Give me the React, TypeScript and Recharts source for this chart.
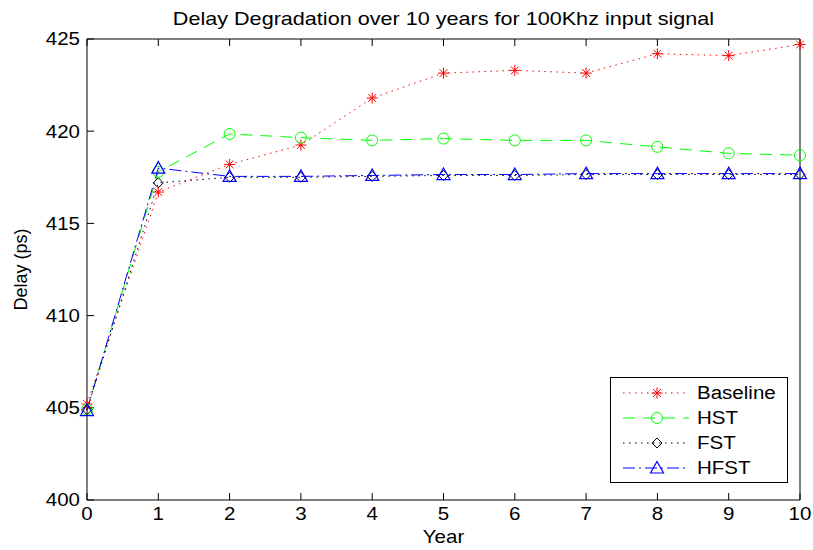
import React from 'react';
import { LineChart, Line, XAxis, YAxis, Legend } from 'recharts';

const years = [0, 1, 2, 3, 4, 5, 6, 7, 8, 9, 10];
const baseline = [405.2, 416.7, 418.2, 419.25, 421.8, 423.15, 423.3, 423.15, 424.2, 424.1, 424.7];
const hst = [404.9, 417.8, 419.85, 419.65, 419.5, 419.6, 419.5, 419.5, 419.15, 418.8, 418.7];
const fst = [404.9, 417.2, 417.5, 417.5, 417.55, 417.6, 417.6, 417.65, 417.65, 417.65, 417.65];
const hfst = [404.85, 418.0, 417.55, 417.55, 417.6, 417.65, 417.65, 417.7, 417.7, 417.7, 417.7];
const yTicks = [400, 405, 410, 415, 420, 425];
const xTicks = [0, 1, 2, 3, 4, 5, 6, 7, 8, 9, 10];

const data = years.map((year, i) => ({
  year,
  baseline: baseline[i],
  hst: hst[i],
  fst: fst[i],
  hfst: hfst[i],
}));

const FONT = 'Liberation Sans, Arial, sans-serif';
const FS = 18;
const SX = 1.14; // the old figure text is a bit stretched sideways

// marker shapes (MATLAB style)
const Star = ({ cx, cy, stroke = '#ff0000' }: any) => {
  const r = 5.5;
  const d = 3.9;
  return (
    <g stroke={stroke} strokeWidth={1}>
      <line x1={cx - r} y1={cy} x2={cx + r} y2={cy} />
      <line x1={cx} y1={cy - r} x2={cx} y2={cy + r} />
      <line x1={cx - d} y1={cy - d} x2={cx + d} y2={cy + d} />
      <line x1={cx - d} y1={cy + d} x2={cx + d} y2={cy - d} />
    </g>
  );
};
const Circ = ({ cx, cy, stroke = '#00ff00' }: any) => (
  <circle cx={cx} cy={cy} r={5.5} fill="none" stroke={stroke} strokeWidth={1} />
);
const Diamond = ({ cx, cy, stroke = '#000000' }: any) => (
  <path d={`M${cx},${cy - 5} L${cx + 5},${cy} L${cx},${cy + 5} L${cx - 5},${cy} Z`} fill="none" stroke={stroke} strokeWidth={1} />
);
const Tri = ({ cx, cy, stroke = '#0000ff' }: any) => (
  <path d={`M${cx},${cy - 6.5} L${cx + 6.5},${cy + 5} L${cx - 6.5},${cy + 5} Z`} fill="none" stroke={stroke} strokeWidth={1.2} />
);

const dotFn = (Shape: any) => (props: any) => {
  if (props.cx == null || props.cy == null) return <g key={props.index} />;
  return <g key={props.index}><Shape cx={props.cx} cy={props.cy} /></g>;
};

const series = [
  { key: 'baseline', name: 'Baseline', color: '#ff0000', dash: '1.5 4.5', Shape: Star },
  { key: 'hst', name: 'HST', color: '#00ff00', dash: '12 8', Shape: Circ },
  { key: 'fst', name: 'FST', color: '#000000', dash: '1.5 4.5', Shape: Diamond },
  { key: 'hfst', name: 'HFST', color: '#0000ff', dash: '12 4 2 4', Shape: Tri },
];

const LegendBox = () => (
  <div
    style={{
      border: '1px solid #000',
      background: '#fff',
      width: 176,
      height: 102,
      boxSizing: 'content-box',
      paddingTop: 2,
      fontFamily: FONT,
      fontSize: FS,
    }}
  >
    {series.map((s) => (
      <div key={s.key} style={{ display: 'flex', alignItems: 'center', height: 25 }}>
        <svg width={86} height={20} style={{ display: 'block', flex: 'none' }}>
          <line x1={12} y1={10} x2={78} y2={10} stroke={s.color} strokeWidth={1} strokeDasharray={s.dash} />
          <s.Shape cx={46} cy={10} />
        </svg>
        <span style={{ color: '#000', display: 'inline-block', transform: `scaleX(${SX})`, transformOrigin: 'left center', lineHeight: 1 }}>
          {s.name}
        </span>
      </div>
    ))}
  </div>
);

const XTick = ({ x, y, payload }: any) => (
  <g transform={`translate(${x},${y})`}>
    <text transform={`scale(${SX},1)`} textAnchor="middle" dy="0.71em" fill="#000" fontSize={FS} fontFamily={FONT}>
      {payload.value}
    </text>
  </g>
);

const YTick = ({ x, y, payload }: any) => (
  <g transform={`translate(${x},${y})`}>
    <text transform={`scale(${SX},1)`} textAnchor="end" dy="0.36em" fill="#000" fontSize={FS} fontFamily={FONT}>
      {payload.value}
    </text>
  </g>
);

const noTick = () => <g />;

const TitleLabel = ({ viewBox }: any) => (
  <g transform={`translate(${viewBox.x + viewBox.width / 2},${viewBox.y - 13})`}>
    <text transform="scale(1.2,1)" textAnchor="middle" fill="#000" fontSize={FS} fontFamily={FONT}>
      Delay Degradation over 10 years for 100Khz input signal
    </text>
  </g>
);

const YearLabel = ({ viewBox }: any) => (
  <g transform={`translate(${viewBox.x + viewBox.width / 2},${viewBox.y + 43})`}>
    <text transform={`scale(${SX},1)`} textAnchor="middle" fill="#000" fontSize={FS} fontFamily={FONT}>
      Year
    </text>
  </g>
);

const DelayLabel = ({ viewBox }: any) => (
  <text
    transform={`translate(${viewBox.x + 27},${viewBox.y + viewBox.height / 2}) rotate(-90)`}
    textAnchor="middle"
    fill="#000"
    fontSize={FS}
    fontFamily={FONT}
  >
    Delay (ps)
  </text>
);

export default function App() {
  return (
    <div style={{ position: 'absolute', left: 0, top: 0, width: 813, height: 550, background: '#fff' }}>
      <LineChart
        width={813}
        height={550}
        data={data}
        margin={{ top: 38, right: 12, bottom: 5, left: 0 }}
        style={{ fontFamily: FONT }}
      >
        <XAxis
          dataKey="year"
          type="number"
          domain={[0, 10]}
          ticks={xTicks}
          height={45}
          stroke="#000"
          tickSize={-7}
          tickMargin={14}
          tick={<XTick />}
          label={<YearLabel />}
        />
        <XAxis
          xAxisId="top"
          orientation="top"
          dataKey="year"
          type="number"
          domain={[0, 10]}
          ticks={xTicks}
          height={1}
          stroke="#000"
          tickSize={-7}
          tick={noTick}
          label={<TitleLabel />}
        />
        <YAxis
          type="number"
          domain={[400, 425]}
          ticks={yTicks}
          width={87}
          stroke="#000"
          tickSize={-7}
          tickMargin={14}
          tick={<YTick />}
          label={<DelayLabel />}
        />
        <YAxis
          yAxisId="right"
          orientation="right"
          type="number"
          domain={[400, 425]}
          ticks={yTicks}
          width={1}
          stroke="#000"
          tickSize={-7}
          tick={noTick}
        />
        {series.map((s) => (
          <Line
            key={s.key}
            dataKey={s.key}
            name={s.name}
            type="linear"
            stroke={s.color}
            strokeWidth={1}
            strokeDasharray={s.dash}
            dot={dotFn(s.Shape)}
            activeDot={false}
            isAnimationActive={false}
          />
        ))}
        <Legend
          layout="vertical"
          align="center"
          verticalAlign="middle"
          content={<LegendBox />}
          wrapperStyle={{ left: 610, top: 377, width: 178, height: 106 }}
        />
      </LineChart>
    </div>
  );
}
